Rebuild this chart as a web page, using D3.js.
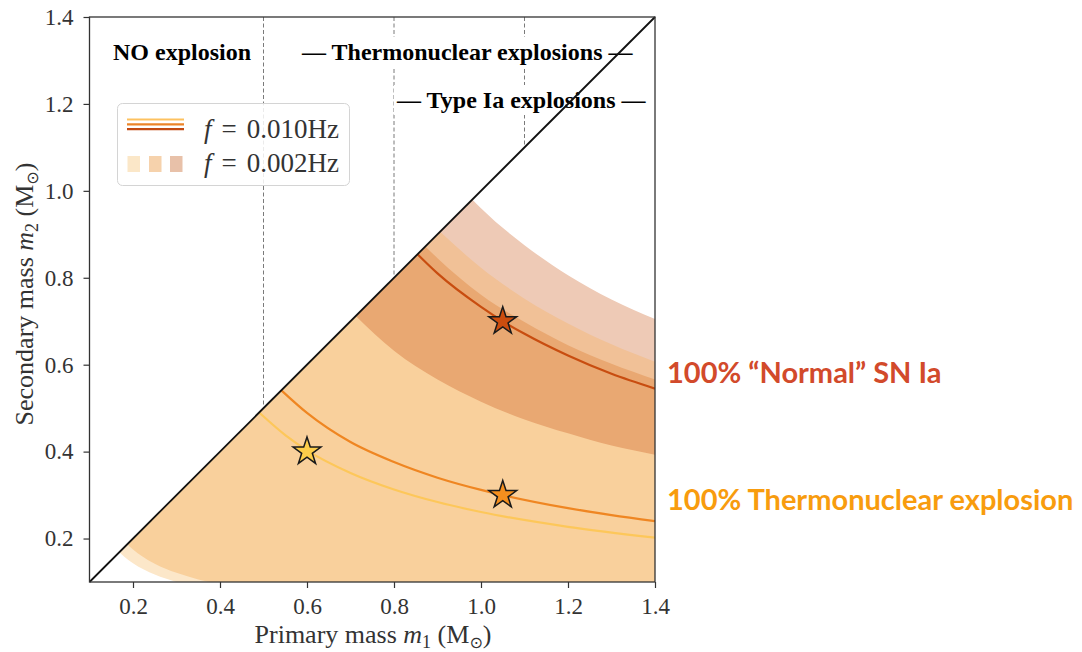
<!DOCTYPE html>
<html>
<head>
<meta charset="utf-8">
<script src="https://cdn.jsdelivr.net/npm/d3@7"></script>
<style>
  html, body { margin: 0; padding: 0; background: #fff; }
  svg { display: block; }
</style>
</head>
<body>
<svg id="chart" width="1082" height="652"></svg>
<script>
// ---- data (masses in solar masses: [m1, m2]) ----
const m1Ticks = [0.2, 0.4, 0.6, 0.8, 1.0, 1.2, 1.4];
const m2Ticks = [0.2, 0.4, 0.6, 0.8, 1.0, 1.2, 1.4];

// f = 0.002 Hz shaded band edges, top to bottom
const edgeRedHigh    = [[0.98, 0.98], [1.0, 0.96], [1.1, 0.875], [1.2, 0.806], [1.3, 0.75], [1.4, 0.705]];
const edgeRedLow     = [[0.906, 0.906], [1.0, 0.823], [1.1, 0.752], [1.2, 0.695], [1.3, 0.647], [1.4, 0.607]];
const edgeOrangeHigh = [[0.872, 0.872], [0.9, 0.845], [1.0, 0.761], [1.1, 0.698], [1.2, 0.645], [1.3, 0.602], [1.4, 0.566]];
const edgeOrangeLow  = [[0.712, 0.712], [0.8, 0.632], [0.9, 0.566], [1.0, 0.515], [1.1, 0.474], [1.2, 0.442], [1.3, 0.414], [1.4, 0.393]];
const edgeYellowHigh = [[0.187, 0.187], [0.2, 0.175], [0.22, 0.16], [0.25, 0.142], [0.3, 0.121], [0.35, 0.106], [0.4, 0.095]];
const edgeYellowLow  = [[0.1685, 0.1685], [0.18, 0.158], [0.2, 0.143], [0.25, 0.117], [0.3, 0.1], [0.35, 0.088]];

// f = 0.010 Hz tracks
const trackRed    = [[0.854, 0.854], [0.9, 0.81], [1.0, 0.733], [1.05, 0.70], [1.1, 0.671], [1.2, 0.621], [1.3, 0.579], [1.4, 0.545]];
const trackOrange = [[0.541, 0.541], [0.6, 0.489], [0.7, 0.422], [0.8, 0.376], [0.9, 0.34], [1.0, 0.312], [1.05, 0.30], [1.2, 0.27], [1.3, 0.254], [1.4, 0.24]];
const trackYellow = [[0.49, 0.49], [0.55, 0.438], [0.6, 0.403], [0.7, 0.351], [0.8, 0.313], [0.9, 0.284], [1.0, 0.261], [1.2, 0.227], [1.4, 0.202]];

// marked systems
const starSystems = [[0.6, 0.4], [1.05, 0.3], [1.05, 0.7]];
const starColors = ["#fccd4a", "#f58f1e", "#cc4d0e"];

// regime boundaries on m1
const regimeBounds = [0.5, 0.8, 1.1];

// ---- layout ----
const svg = d3.select("#chart");
const x = d3.scaleLinear().domain([0.1, 1.4]).range([89.5, 655]);
const y = d3.scaleLinear().domain([0.1, 1.4]).range([582, 17]);
const serif = "'Liberation Serif', 'Times New Roman', serif";

svg.append("rect").attr("width", 1082).attr("height", 652).attr("fill", "#fff");

// triangle below the equal-mass line
const defs = svg.append("defs");
defs.append("clipPath").attr("id", "tri")
  .append("path")
  .attr("d", `M${x(0.1)},${y(0.1)}L${x(1.4)},${y(0.1)}L${x(1.4)},${y(1.4)}Z`);

const curve = d3.line().x(d => x(d[0])).y(d => y(d[1])).curve(d3.curveMonotoneX);

// filled region below an edge (painted top edge first, lower edges on top)
function regionBelow(edge) {
  const first = edge[0], last = edge[edge.length - 1];
  return `M${x(0.0)},${y(first[1])}L` + curve(edge).slice(1) +
         `L${x(last[0])},${y(0.0)}L${x(0.0)},${y(0.0)}Z`;
}

const bands = svg.append("g").attr("clip-path", "url(#tri)");
const layers = [
  [edgeRedHigh, "#eecab6"],
  [edgeRedLow, "#f1c197"],
  [edgeOrangeHigh, "#e9a872"],
  [edgeOrangeLow, "#f9d09c"],
  [edgeYellowHigh, "#fce7c9"],
  [edgeYellowLow, "#ffffff"]
];
layers.forEach(([edge, fill]) => {
  bands.append("path").attr("d", regionBelow(edge)).attr("fill", fill);
});

// tracks
const tracks = svg.append("g").attr("clip-path", "url(#tri)").attr("fill", "none");
[[trackYellow, "#fdc75a"], [trackOrange, "#ef8622"], [trackRed, "#c84d10"]].forEach(([t, c]) => {
  tracks.append("path").attr("d", curve(t)).attr("stroke", c).attr("stroke-width", 2.2);
});

// regime dividers
svg.append("g").selectAll("line").data(regimeBounds).join("line")
  .attr("x1", d => x(d)).attr("x2", d => x(d))
  .attr("y1", y(1.4)).attr("y2", d => y(d))
  .attr("stroke", "#7a7a7a").attr("stroke-width", 1).attr("stroke-dasharray", "4,2.5");

// legend
const lg = svg.append("g");
lg.append("rect").attr("x", 117.5).attr("y", 103.5).attr("width", 232).attr("height", 82)
  .attr("rx", 5).attr("fill", "#fff").attr("fill-opacity", 0.85)
  .attr("stroke", "#d4d4d4").attr("stroke-width", 1);
[["#fdc260", 119.5], ["#ec8428", 124.3], ["#c24a12", 129.2]].forEach(([c, yy]) => {
  lg.append("line").attr("x1", 127).attr("x2", 184).attr("y1", yy).attr("y2", yy)
    .attr("stroke", c).attr("stroke-width", 2.2);
});
[["#fbe7c8", 127.5], ["#f6d2ac", 149], ["#e8c1a9", 170]].forEach(([c, xx]) => {
  lg.append("rect").attr("x", xx).attr("y", 156).attr("width", 12.5).attr("height", 16).attr("fill", c);
});
function legendLabel(txt, yy) {
  const t = lg.append("text").attr("x", 204).attr("y", yy)
    .attr("font-family", serif).attr("font-size", 27).attr("fill", "#333");
  t.append("tspan").attr("font-style", "italic").text("f");
  t.append("tspan").attr("dx", 10).text("=");
  t.append("tspan").attr("dx", 10).text(txt);
}
legendLabel("0.010Hz", 138);
legendLabel("0.002Hz", 172);

// regime annotations
const notes = svg.append("g").attr("font-family", serif).attr("font-weight", "bold")
  .attr("font-size", 24).attr("fill", "#000");
notes.append("text").attr("x", 113).attr("y", 60).text("NO explosion");
function boxedNote(txt, xx, yy) {
  const g = notes.append("g");
  const r = g.append("rect").attr("fill", "#fff");
  const t = g.append("text").attr("x", xx).attr("y", yy).text(txt);
  const b = t.node().getBBox();
  r.attr("x", b.x - 2).attr("y", b.y - 2).attr("width", b.width + 4).attr("height", b.height + 4);
}
boxedNote("\u2014 Thermonuclear explosions \u2014", 302, 60);
boxedNote("\u2014 Type Ia explosions \u2014", 397, 108);

// equal-mass line
svg.append("line")
  .attr("x1", x(0.1)).attr("y1", y(0.1)).attr("x2", x(1.4)).attr("y2", y(1.4))
  .attr("stroke", "#111").attr("stroke-width", 1.8);

// stars
svg.append("g").selectAll("path").data(starSystems).join("path")
  .attr("d", d3.symbol().type(d3.symbolStar).size(240))
  .attr("transform", d => `translate(${x(d[0])},${y(d[1])})`)
  .attr("fill", (d, i) => starColors[i])
  .attr("stroke", "#1a1a1a").attr("stroke-width", 1.5).attr("stroke-linejoin", "miter");

// frame
svg.append("rect").attr("x", x(0.1)).attr("y", y(1.4))
  .attr("width", x(1.4) - x(0.1)).attr("height", y(0.1) - y(1.4))
  .attr("fill", "none").attr("stroke", "#333").attr("stroke-width", 1.3);

// axes
const xAxis = svg.append("g").attr("transform", `translate(0,${y(0.1)})`)
  .call(d3.axisBottom(x).tickValues(m1Ticks).tickFormat(d3.format(".1f")).tickSize(6).tickPadding(6));
const yAxis = svg.append("g").attr("transform", `translate(${x(0.1)},0)`)
  .call(d3.axisLeft(y).tickValues(m2Ticks).tickFormat(d3.format(".1f")).tickSize(6).tickPadding(10));
[xAxis, yAxis].forEach(a => {
  a.select(".domain").remove();
  a.selectAll(".tick line").attr("stroke", "#333").attr("stroke-width", 1.2);
  a.selectAll(".tick text").attr("font-family", serif).attr("font-size", 23).attr("fill", "#333");
});
xAxis.selectAll(".tick text").attr("dy", "0.87em");

// axis titles
function massTitle(sel, label, sub) {
  sel.attr("font-family", serif).attr("font-size", 26).attr("fill", "#333").attr("text-anchor", "middle");
  sel.append("tspan").text(label + " ");
  sel.append("tspan").attr("font-style", "italic").text("m");
  sel.append("tspan").attr("font-size", 18).attr("dy", 5).text(sub);
  sel.append("tspan").attr("dy", -5).text(" (M");
  sel.append("tspan").attr("font-size", 16).attr("dy", 5).attr("font-family", "'DejaVu Sans', sans-serif").text("\u2299");
  sel.append("tspan").attr("dy", -5).text(")");
}
massTitle(svg.append("text").attr("x", 373).attr("y", 643), "Primary mass", "1");
massTitle(svg.append("text").attr("transform", "translate(33,294) rotate(-90)"), "Secondary mass", "2");

// outcome labels
const outcome = svg.append("g").attr("font-family", "Lato, sans-serif").attr("font-weight", "bold").attr("font-size", 29);
outcome.append("text").attr("x", 667).attr("y", 383).attr("fill", "#d24a2b").text("100% \u201cNormal\u201d SN Ia");
outcome.append("text").attr("x", 667).attr("y", 510).attr("fill", "#f89c0e").text("100% Thermonuclear explosion");
</script>
</body>
</html>
